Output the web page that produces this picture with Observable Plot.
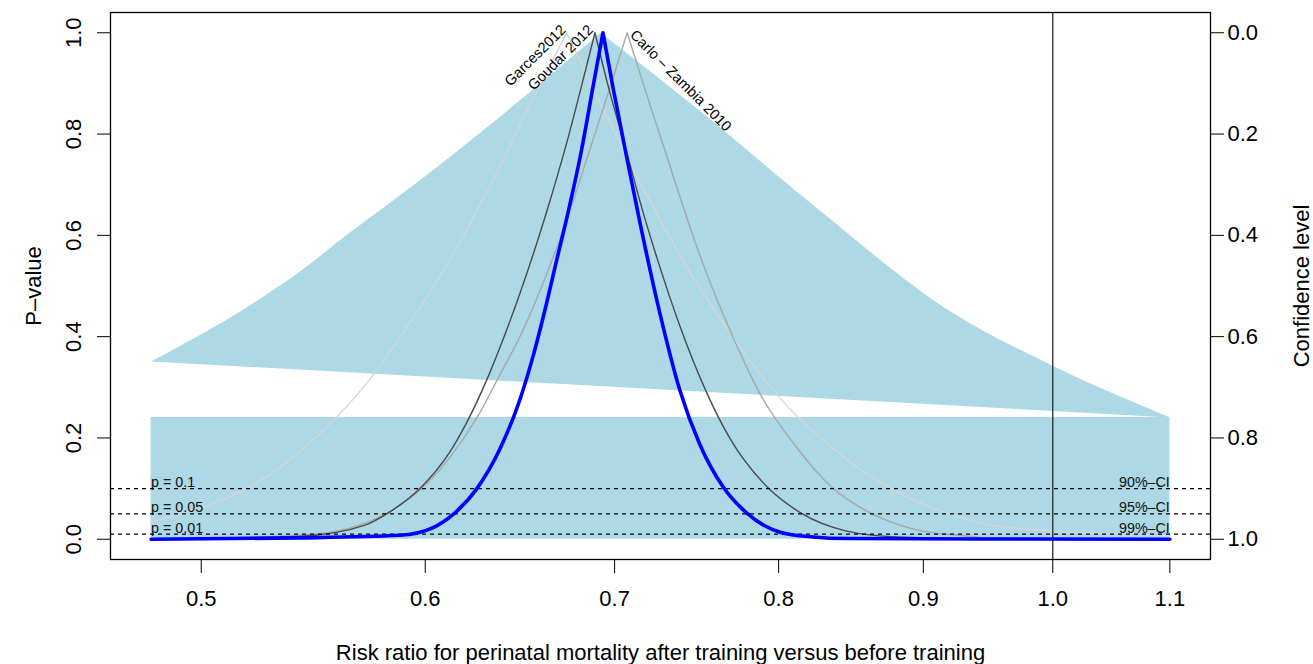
<!DOCTYPE html>
<html><head><meta charset="utf-8">
<script src="https://cdn.jsdelivr.net/npm/d3@7"></script>
<script src="https://cdn.jsdelivr.net/npm/@observablehq/plot@0.6"></script>
<style>
body{margin:0;background:#fff}
#chart svg{font-family:"Liberation Sans",Arial,Helvetica,sans-serif}
</style>
</head><body><div id="chart"></div>
<script>
// ---- tick labels / annotations ----
const xTicks = [0.5, 0.6, 0.7, 0.8, 0.9, 1.0, 1.1];
const yTicks = [0, 0.2, 0.4, 0.6, 0.8, 1.0];
const pLevels = [0.1, 0.05, 0.01];
const pLabels = ["p = 0.1", "p = 0.05", "p = 0.01"];
const ciLabels = ["90%–CI", "95%–CI", "99%–CI"];
const xMin = 0.48, xMax = 1.1;
const refRR = 1.0;
const rectTop = 0.2406;

// ---- shaded region (upper polygon): left edge up to apex, then right edge ----
const bandX = [0.48, 0.5201, 0.5418, 0.5643, 0.5877, 0.6376, 0.692, 0.7503, 0.8240, 0.9198, 0.9994, 1.1];
const bandP = [0.351, 0.4615, 0.5286, 0.6055, 0.6785, 0.8343, 1.0, 0.846, 0.657, 0.450, 0.343, 0.2406];

// ---- study names ----
const studyNames = ["Garces2012", "Goudar 2012", "Carlo – Zambia 2010"];
const studyColors = ["#d6d6d6", "#4a4a4a", "#a8a8a8"];

// Garces2012
const garcesX = [0.48, 0.5316, 0.5418, 0.5582, 0.5767, 0.5925, 0.6072, 0.6290, 0.6516, 0.6732, 0.6917, 0.7107, 0.7303, 0.7392, 0.7669, 0.7987, 0.8341, 0.8760, 0.9174, 0.9580, 1.1];
const garcesP = [0.034, 0.137, 0.173, 0.241, 0.333, 0.428, 0.519, 0.672, 0.843, 1.0, 0.862, 0.731, 0.607, 0.555, 0.417, 0.286, 0.184, 0.101, 0.052, 0.025, 0.007];

// Goudar 2012
const goudarX = [0.48, 0.5418, 0.5720, 0.5822, 0.5974, 0.6121, 0.6239, 0.6324, 0.6411, 0.6489, 0.6623, 0.6732, 0.6815, 0.6889, 0.6964, 0.7069, 0.7175, 0.7247, 0.7382, 0.7544, 0.7689, 0.7933, 0.8151, 0.8456, 0.8807, 0.9580, 1.1];
const goudarP = [0, 0.006, 0.029, 0.052, 0.100, 0.172, 0.256, 0.329, 0.413, 0.494, 0.646, 0.782, 0.896, 1.0, 0.894, 0.764, 0.633, 0.554, 0.421, 0.290, 0.199, 0.101, 0.051, 0.016, 0.0045, 0.0006, 0];

// Carlo – Zambia 2010
const carloX = [0.48, 0.5418, 0.5643, 0.5814, 0.5982, 0.6138, 0.6273, 0.6376, 0.6481, 0.6614, 0.6732, 0.6849, 0.6973, 0.7072, 0.7173, 0.7303, 0.7430, 0.7514, 0.7710, 0.7880, 0.8096, 0.8364, 0.8619, 0.8928, 0.9299, 0.9580, 1.1];
const carloP = [0, 0.008, 0.022, 0.051, 0.100, 0.170, 0.250, 0.325, 0.400, 0.515, 0.629, 0.757, 0.891, 1.0, 0.891, 0.757, 0.629, 0.551, 0.398, 0.287, 0.190, 0.100, 0.052, 0.020, 0.007, 0.002, 0.0005];

// Pooled estimate (blue)
const pooledX = [0.48, 0.5418, 0.5877, 0.6039, 0.6138, 0.6256, 0.6376, 0.6481, 0.6551, 0.6623, 0.6677, 0.6732, 0.6815, 0.6879, 0.6934, 0.6992, 0.7069, 0.7146, 0.7263, 0.7382, 0.7503, 0.7647, 0.7794, 0.8009, 0.8229, 0.8456, 1.1];
const pooledP = [0, 0.0026, 0.0078, 0.023, 0.049, 0.099, 0.178, 0.276, 0.362, 0.466, 0.550, 0.633, 0.770, 0.895, 1.0, 0.890, 0.755, 0.625, 0.446, 0.294, 0.187, 0.103, 0.052, 0.014, 0.0045, 0.0014, 0];

// ---- monotone curve that keeps a sharp cusp at the peak ----
function cuspMonotone(context) {
  let pts = [];
  return {
    areaStart() {}, areaEnd() {},
    lineStart() { pts = []; },
    point(x, y) { pts.push([+x, +y]); },
    lineEnd() {
      const runs = []; let start = 0;
      for (let i = 1; i < pts.length - 1; i++) {
        const a = pts[i][1] - pts[i - 1][1], b = pts[i + 1][1] - pts[i][1];
        if (a * b < 0) { runs.push(pts.slice(start, i + 1)); start = i; }
      }
      runs.push(pts.slice(start));
      let first = true;
      const proxy = {
        moveTo(x, y) { if (first) { context.moveTo(x, y); first = false; } else context.lineTo(x, y); },
        lineTo(x, y) { context.lineTo(x, y); },
        bezierCurveTo(a, b, c, d, e, f) { context.bezierCurveTo(a, b, c, d, e, f); },
        closePath() {}
      };
      for (const r of runs) {
        const c = d3.curveMonotoneX(proxy);
        c.lineStart(); for (const p of r) c.point(p[0], p[1]); c.lineEnd();
      }
    }
  };
}

const rows = (xs, ps) => xs.map((x, i) => ({x, p: ps[i]}));
const peakOf = (xs, ps) => xs[ps.indexOf(Math.max(...ps))];
const peaks = [peakOf(garcesX, garcesP), peakOf(goudarX, goudarP), peakOf(carloX, carloP)];
const pRows = pLevels.map((p, i) => ({p, left: pLabels[i], right: ciLabels[i]}));

const fs = 22, small = 14.3, lab = 14.6;
const blue = "#add8e6";
const curveOpts = (c, w) => ({x: "x", y: "p", stroke: c, strokeWidth: w, curve: cuspMonotone});

const chart = Plot.plot({
  width: 1313, height: 664,
  marginLeft: 110, marginRight: 103, marginTop: 12, marginBottom: 105,
  x: {type: "log", domain: [0.4644, 1.137]},
  y: {domain: [-0.04, 1.04]},
  style: {fontFamily: "'Liberation Sans', Arial, Helvetica, sans-serif", background: "white", color: "black"},
  marks: [
    Plot.rect([0], {x1: () => xMin, x2: () => xMax, y1: () => 0, y2: () => rectTop, fill: blue}),
    Plot.line(rows(bandX, bandP), {x: "x", y: "p", fill: blue, stroke: "none", curve: cuspMonotone}),
    Plot.line(rows(garcesX, garcesP), curveOpts(studyColors[0], 1.4)),
    Plot.line(rows(carloX, carloP), curveOpts(studyColors[2], 1.4)),
    Plot.line(rows(goudarX, goudarP), curveOpts(studyColors[1], 1.4)),
    Plot.ruleY(pLevels, {y: d => d, stroke: "black", strokeWidth: 1.2, strokeDasharray: "4,4"}),
    Plot.ruleX([refRR], {x: d => d, stroke: "#2a2a2a", strokeWidth: 1.3}),
    Plot.line(rows(pooledX, pooledP), curveOpts("#0000ff", 3.6)),
    Plot.text(pRows, {x: () => xMin, y: "p", text: "left", textAnchor: "start", lineAnchor: "bottom", dy: -1.5, fontSize: small, fill: "#111"}),
    Plot.text(pRows, {x: () => xMax, y: "p", text: "right", textAnchor: "end", lineAnchor: "bottom", dy: -1.5, fontSize: small, fill: "#111"}),
    Plot.text([0], {x: () => peaks[0], y: () => 1, text: () => studyNames[0], rotate: -45, textAnchor: "end", lineAnchor: "bottom", dx: 0, dy: -2, fontSize: lab}),
    Plot.text([0], {x: () => peaks[1], y: () => 1, text: () => studyNames[1], rotate: -45, textAnchor: "end", lineAnchor: "bottom", dx: -1, dy: -2, fontSize: lab}),
    Plot.text([0], {x: () => peaks[2], y: () => 1, text: () => studyNames[2], rotate: 45, textAnchor: "start", lineAnchor: "bottom", dx: 2, dy: 3, fontSize: lab}),
    Plot.axisX({ticks: xTicks, tickSize: 14, tickPadding: 17, tickFormat: d => d.toFixed(1), fontSize: fs, label: null}),
    Plot.axisY({anchor: "left", ticks: yTicks, tickSize: 13, tickFormat: () => "", label: null}),
    Plot.text(yTicks, {y: d => d, text: d => d.toFixed(1), frameAnchor: "left", textAnchor: "middle", lineAnchor: "middle", dx: -37, rotate: -90, fontSize: fs}),
    Plot.axisY({anchor: "right", ticks: yTicks, tickSize: 13, tickPadding: 4, tickFormat: d => (1 - d).toFixed(1), fontSize: fs, label: null}),
    Plot.text(["Risk ratio for perinatal mortality after training versus before training"], {text: d => d, frameAnchor: "bottom", textAnchor: "middle", lineAnchor: "middle", dy: 93, fontSize: fs}),
    Plot.text(["P–value"], {text: d => d, frameAnchor: "left", textAnchor: "middle", lineAnchor: "middle", dx: -77, rotate: -90, fontSize: fs}),
    Plot.text(["Confidence level"], {text: d => d, frameAnchor: "right", textAnchor: "middle", lineAnchor: "middle", dx: 91, rotate: -90, fontSize: fs}),
    Plot.frame({stroke: "black", strokeWidth: 1.3})
  ]
});
document.getElementById("chart").appendChild(chart);
</script>
</body></html>
